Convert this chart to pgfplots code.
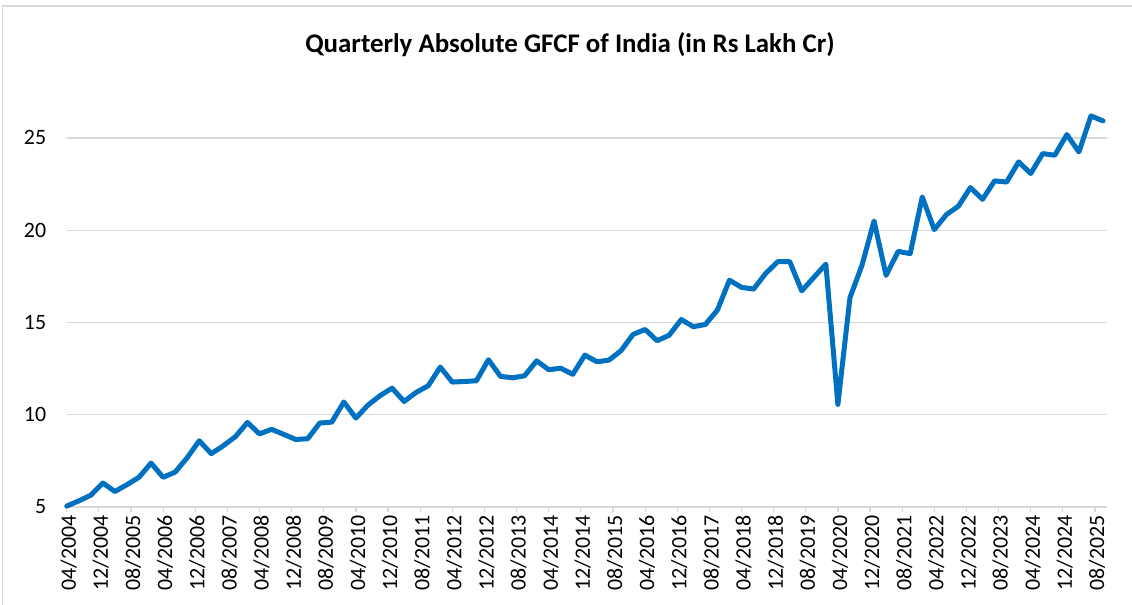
\documentclass[border=0pt]{standalone}
\usepackage{fontspec}
\setmainfont{Carlito}
\usepackage{pgfplots}
\pgfplotsset{compat=1.18}

\definecolor{gfcfblue}{HTML}{0070C0}
\definecolor{gridgray}{HTML}{D9D9D9}

% quarterly GFCF, x = months since 04/2004
\pgfplotstableread{
m   v
0   5.05
3   5.33
6   5.64
9   6.30
12  5.84
15  6.21
18  6.61
21  7.38
24  6.61
27  6.89
30  7.67
33  8.59
36  7.89
39  8.32
42  8.81
45  9.58
48  8.96
51  9.21
54  8.94
57  8.66
60  8.70
63  9.55
66  9.60
69  10.69
72  9.82
75  10.52
78  11.03
81  11.44
84  10.72
87  11.21
90  11.57
93  12.58
96  11.77
99  11.80
102 11.84
105 12.98
108 12.08
111 12.00
114 12.11
117 12.92
120 12.44
123 12.52
126 12.19
129 13.23
132 12.87
135 12.96
138 13.47
141 14.35
144 14.62
147 14.01
150 14.31
153 15.16
156 14.77
159 14.89
162 15.67
165 17.29
168 16.90
171 16.81
174 17.65
177 18.29
180 18.30
183 16.71
186 17.44
189 18.16
192 10.56
195 16.34
198 18.10
201 20.50
204 17.55
207 18.85
210 18.73
213 21.80
216 20.03
219 20.84
222 21.30
225 22.31
228 21.67
231 22.67
234 22.61
237 23.70
240 23.07
243 24.15
246 24.06
249 25.18
252 24.24
255 26.19
258 25.92
}\gfcf

\begin{document}
\begin{tikzpicture}
\useasboundingbox (-66.7bp,-98bp) rectangle (1065.3bp,507bp);
\draw[gridgray, line width=1.2bp] (-64.2bp,-98bp) -- (-64.2bp,501bp) -- (1065.3bp,501bp);
\node[font=\bfseries\fontsize{27}{30}\selectfont] at (503.3bp,462bp)
  {Quarterly Absolute GFCF of India (in Rs Lakh Cr)};
\begin{axis}[
    at={(0,0)}, anchor=origin,
    scale only axis,
    width=1040.3bp, height=406bp,
    xmin=0, xmax=259,
    ymin=5, ymax=27,
    clip=false,
    axis x line=bottom,
    axis y line=left,
    axis line style={-},
    x axis line style={draw=gridgray, line width=1.2bp},
    y axis line style={draw=none},
    xtick={0,8,...,256},
    xticklabels={04/2004,12/2004,08/2005,04/2006,12/2006,08/2007,04/2008,12/2008,
      08/2009,04/2010,12/2010,08/2011,04/2012,12/2012,08/2013,04/2014,12/2014,
      08/2015,04/2016,12/2016,08/2017,04/2018,12/2018,08/2019,04/2020,12/2020,
      08/2021,04/2022,12/2022,08/2023,04/2024,12/2024,08/2025},
    ytick={5,10,15,20,25},
    tick align=outside,
    major tick length=5bp,
    xtick style={draw=gridgray, line width=1.2bp},
    ytick style={draw=none},
    ymajorgrids,
    grid style={draw=gridgray, line width=1.2bp},
    x tick label style={rotate=90, anchor=east, font=\fontsize{22}{22}\selectfont, yshift=-2bp},
    y tick label style={font=\fontsize{22}{22}\selectfont, xshift=-12bp},
    /pgf/number format/assume math mode=true,
]
\addplot[gfcfblue, line width=5bp, line join=round, line cap=round] table[x=m, y=v] {\gfcf};
\end{axis}
\end{tikzpicture}
\end{document}
